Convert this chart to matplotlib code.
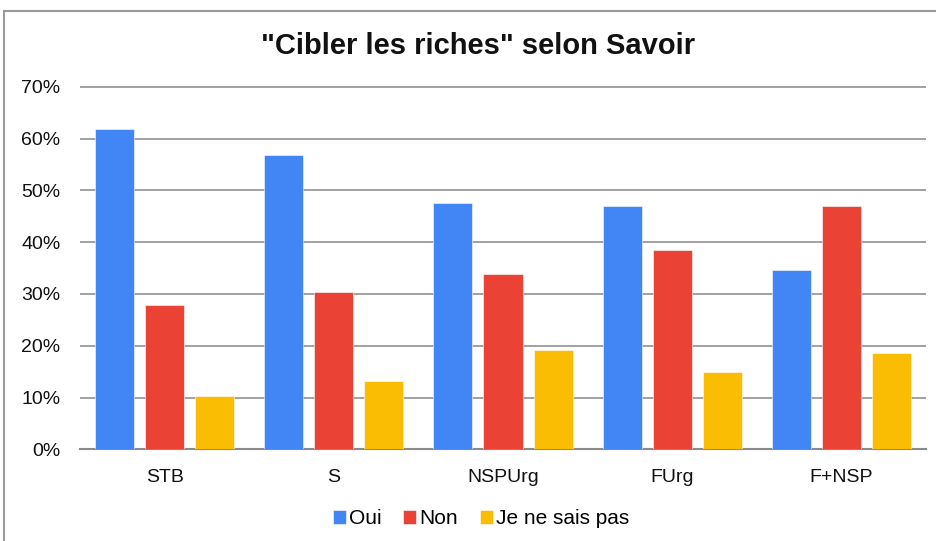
import matplotlib.pyplot as plt
import numpy as np
from matplotlib.lines import Line2D
from matplotlib.ticker import FuncFormatter

plt.rcParams['font.family'] = ['Liberation Sans', 'DejaVu Sans']

groups = ['STB', 'S', 'NSPUrg', 'FUrg', 'F+NSP']
oui = [61.9, 56.8, 47.5, 46.9, 34.7]
non = [27.8, 30.3, 33.8, 38.4, 46.9]
nsp = [10.3, 13.1, 19.1, 14.9, 18.5]
series_names = ['Oui', 'Non', 'Je ne sais pas']
colors = ['#4285F4', '#EA4335', '#FBBC04']

W, H = 936, 541
fig = plt.figure(figsize=(W / 100, H / 100), dpi=100)
fig.patch.set_facecolor('white')

# axes box in pixels: 0% at y=449.3, 70% at y=86.7
ymax = 70.3
px_per = (449.3 - 86.7) / 70
top_px = 449.3 - ymax * px_per
ax = fig.add_axes([80 / W, (H - 449.3) / H, 846 / W, (449.3 - top_px) / H])

x = np.arange(len(groups))
step = 50 / 169
width = 39 / 169
for i, (vals, c, name) in enumerate(zip([oui, non, nsp], colors, series_names)):
    ax.bar(x + (i - 1) * step, vals, width, color=c, label=name,
           edgecolor='white', linewidth=0.4, zorder=3)

ax.set_xlim(-0.5, len(groups) - 0.5)
ax.set_ylim(0, ymax)
ax.set_yticks(range(0, 71, 10))
ax.yaxis.set_major_formatter(FuncFormatter(lambda v, p: f'{v:.0f}%'))
ax.set_xticks(x)
ax.set_xticklabels(groups)
ax.tick_params(axis='both', length=0, labelsize=14, colors='#111111')
ax.tick_params(axis='y', pad=14)
ax.tick_params(axis='x', pad=14)

ax.grid(axis='y', color='#9a9a9a', linewidth=1.3, zorder=0)
ax.set_axisbelow(True)
for s in ['top', 'left', 'right']:
    ax.spines[s].set_visible(False)
ax.spines['bottom'].set_color('#8a8a8a')
ax.spines['bottom'].set_linewidth(1.5)

fig.text(478 / W, 1 - 46 / H, '"Cibler les riches" selon Savoir',
         ha='center', va='center', fontsize=21, fontweight='bold', color='#111111')

leg = fig.legend(loc='center', bbox_to_anchor=(481 / W, 1 - 519 / H), ncol=3,
                 frameon=False, fontsize=15, handlelength=0.62, handleheight=0.62,
                 handletextpad=0.15, columnspacing=1.05)

# outer frame (top and left edges)
fig.add_artist(Line2D([4 / W, 4 / W], [0, 1 - 11 / H], color='#9a9a9a', linewidth=1.5))
fig.add_artist(Line2D([4 / W, 1], [1 - 11 / H, 1 - 11 / H], color='#9a9a9a', linewidth=1.5))

fig.savefig('out.png', dpi=100)
